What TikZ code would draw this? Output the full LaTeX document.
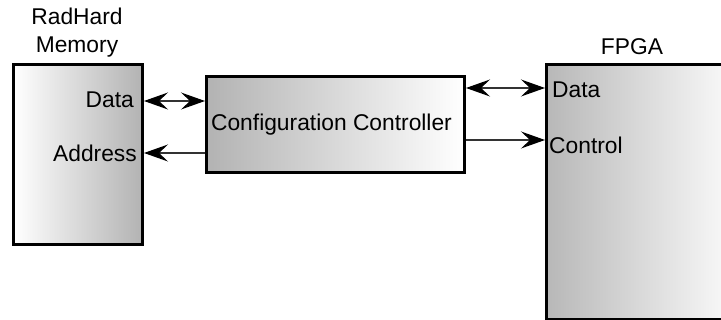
\documentclass[tikz,border=0pt]{standalone}
\usepackage{fontspec}
\setmainfont{Liberation Sans}
\usetikzlibrary{arrows.meta}
\begin{document}
\begin{tikzpicture}[x=1pt,y=-1pt,
  every node/.style={font=\fontsize{22.8}{28}\selectfont},
  block/.style={draw=black,line width=3pt,inner sep=0pt,anchor=north west},
  lbl/.style={inner sep=0pt},
  link/.style={line width=1.3pt,draw=black!80},
  tip/.tip={Stealth[length=24pt,width=17pt,inset=9pt,color=black]}]
\clip (0,0) rectangle (721,320);
\fill[white] (0,0) rectangle (721,320);

% memory block
\node[block,minimum width=129pt,minimum height=180pt,
      left color=white,right color=black!30] (mem) at (12,63) {};
\node[lbl,align=center] (memtitle) at (77,33) {RadHard\\Memory};
\node[lbl,anchor=east] (memdata) at (134,100) {Data};
\node[lbl,anchor=east] (memaddr) at (137,153) {Address};

% controller block
\node[block,minimum width=258pt,minimum height=96pt,
      left color=black!30,right color=white] (ctl) at (205,75) {};
\node[lbl] (ctltext) at ([xshift=-4pt]ctl.center) {Configuration Controller};

% FPGA block
\node[block,minimum width=200pt,minimum height=255pt,
      left color=black!28,right color=white] (fpga) at (545,63) {};
\node[lbl] (fpgatitle) at (632,47) {FPGA};
\node[lbl,anchor=west] (fpgadata) at (552,90) {Data};
\node[lbl,anchor=west] (fpgactl) at (549,145) {Control};

% connections
\coordinate (ydata) at (0,101);
\coordinate (yaddr) at (0,153);
\coordinate (yfdata) at (0,88);
\coordinate (yfctl) at (0,140);
\draw[link,tip-tip] (mem.east |- ydata) -- (ctl.west |- ydata);
\draw[link,-tip] (ctl.west |- yaddr) -- (mem.east |- yaddr);
\draw[link,tip-tip] (ctl.east |- yfdata) -- (fpga.west |- yfdata);
\draw[link,-tip] (ctl.east |- yfctl) -- (fpga.west |- yfctl);
\end{tikzpicture}
\end{document}
